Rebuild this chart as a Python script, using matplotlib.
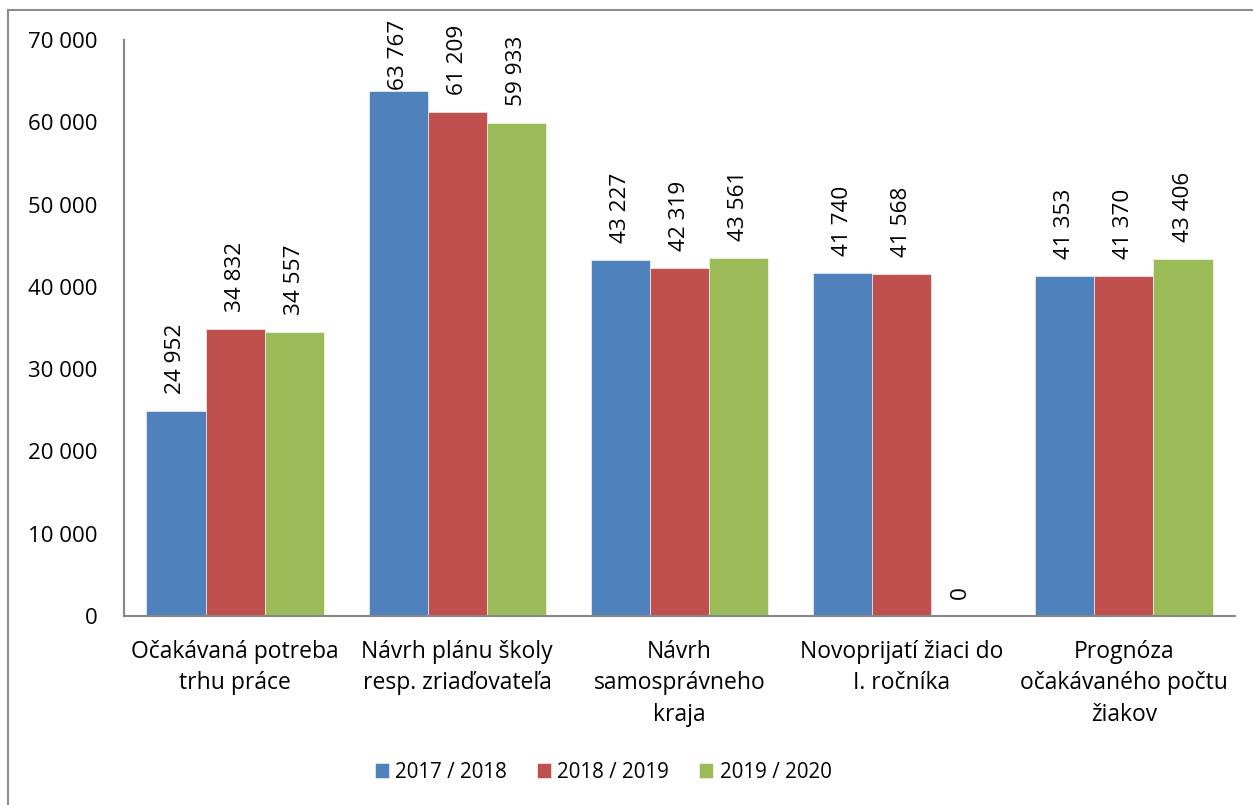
import matplotlib
matplotlib.use("Agg")
import matplotlib.pyplot as plt
from matplotlib.patches import Rectangle
import numpy as np

categories = ["Očakávaná potreba\ntrhu práce",
              "Návrh plánu školy\nresp. zriaďovateľa",
              "Návrh\nsamosprávneho\nkraja",
              "Novoprijatí žiaci do\nI. ročníka",
              "Prognóza\nočakávaného počtu\nžiakov"]
series_names = ["2017 / 2018", "2018 / 2019", "2019 / 2020"]
values_2017 = [24952, 63767, 43227, 41740, 41353]
values_2018 = [34832, 61209, 42319, 41568, 41370]
values_2019 = [34557, 59933, 43561, 0, 43406]
yticks = [0, 10000, 20000, 30000, 40000, 50000, 60000, 70000]

colors = ["#4F81BD", "#C0504D", "#9BBB59"]
plt.rcParams['font.family'] = ['Open Sans', 'DejaVu Sans']

W, H = 1253, 805
fig = plt.figure(figsize=(W / 100, H / 100), dpi=100)
ax = fig.add_axes([124/W, 1-616/H, (1235-124)/W, (616-40)/H])

def fmt(v):
    return f"{v:,}".replace(",", " ")

ax.set_xlim(-0.5, len(categories) - 0.5)
ax.set_ylim(0, 70000)

label_fs = 16.2
gap_px = 17
label_len_px = 71
top_limit_px = 20  # labels kept inside the chart area near the top

x = np.arange(len(categories))
w = 0.266
for i, (vals, name) in enumerate(zip([values_2017, values_2018, values_2019], series_names)):
    pos = x + (i - 1) * w
    ax.bar(pos, vals, width=w, color=colors[i], label=name, edgecolor='white', linewidth=0.4)
    for p, v in zip(pos, vals):
        disp = ax.transData.transform((p, v))
        ytop_px = H - disp[1]
        label_top_px = ytop_px - gap_px - label_len_px
        if label_top_px < top_limit_px:
            ax.annotate(fmt(v), xy=(disp[0], H - top_limit_px), xycoords='figure pixels',
                        rotation=90, ha='center', va='top', fontsize=label_fs, color='black')
        else:
            ax.annotate(fmt(v), (p, v), xytext=(0, gap_px * 0.72), textcoords='offset points',
                        rotation=90, ha='center', va='bottom', fontsize=label_fs, color='black')

ax.set_yticks(yticks)
ax.set_yticklabels([fmt(t) for t in yticks], fontsize=16)
ax.set_xticks(x)
ax.set_xticklabels(categories, fontsize=16.5, linespacing=1.42, va='top')
ax.tick_params(axis='both', length=0)
ax.tick_params(axis='y', pad=19)
ax.tick_params(axis='x', pad=17)
for s in ['top', 'right']:
    ax.spines[s].set_visible(False)
for s in ['left', 'bottom']:
    ax.spines[s].set_color('#868686')
    ax.spines[s].set_linewidth(1.5)

leg = fig.legend(loc='center', bbox_to_anchor=(603/W, 1-772/H), ncol=3, frameon=False,
                 fontsize=14.8, handlelength=0.7, handleheight=0.7, handletextpad=0.3,
                 columnspacing=1.45)

fig.patches.append(Rectangle((8/W, -0.1), 1.2, (1-10/H) + 0.1, transform=fig.transFigure,
                             fill=False, edgecolor='#8c8c8c', linewidth=1.5))

fig.savefig("out.png", dpi=100)
